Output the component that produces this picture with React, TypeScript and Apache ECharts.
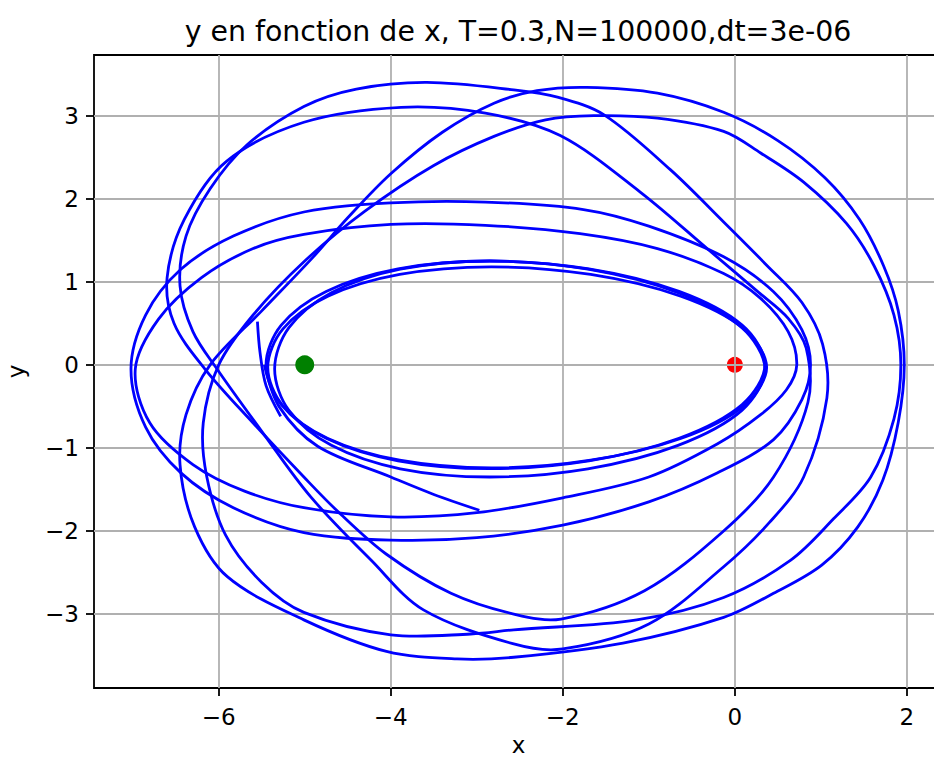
import React, { useEffect, useRef } from "react";
import * as echarts from "echarts";

const TITLE = "y en fonction de x, T=0.3,N=100000,dt=3e-06";
const X_NAME = "x";
const Y_NAME = "y";
const X_TICKS = [-6, -4, -2, 0, 2];
const Y_TICKS = [-3, -2, -1, 0, 1, 2, 3];
const X_MIN = -7.45;
const X_MAX = 2.42;
const Y_MIN = -3.89;
const Y_MAX = 3.73;

// fixed bodies
const GREEN_BODY = [[-5, 0]];
const RED_BODY = [[0, 0]];

// trajectory loops (counter-clockwise)
const INNER_1 = [[0.35, 0], [0.085, 0.478], [-0.649, 0.884], [-1.696, 1.155], [-2.85, 1.25], [-3.916, 1.155], [-4.751, 0.884], [-5.273, 0.478], [-5.45, 0], [-5.273, -0.478], [-4.751, -0.884], [-3.916, -1.155], [-2.85, -1.25], [-1.696, -1.155], [-0.649, -0.884], [0.085, -0.478]];
const INNER_2 = [[0.37, -0.03], [0.105, 0.433], [-0.629, 0.826], [-1.676, 1.088], [-2.83, 1.18], [-3.896, 1.088], [-4.731, 0.826], [-5.253, 0.433], [-5.43, -0.03], [-5.253, -0.493], [-4.731, -0.886], [-3.896, -1.148], [-2.83, -1.24], [-1.676, -1.148], [-0.629, -0.886], [0.105, -0.493]];
const INNER_3 = [[0.35, -0.05], [0.082, 0.448], [-0.66, 0.869], [-1.708, 1.151], [-2.85, 1.25], [-3.89, 1.151], [-4.69, 0.869], [-5.184, 0.448], [-5.35, -0.05], [-5.184, -0.548], [-4.69, -0.969], [-3.89, -1.251], [-2.85, -1.35], [-1.708, -1.251], [-0.66, -0.969], [0.082, -0.548]];
const MID_1 = [[0.88, 0], [0.78, 0.42], [0.45, 0.88], [-0.13, 1.3], [-1.0, 1.67], [-1.76, 1.87], [-2.9, 1.96], [-4.0, 1.95], [-5.01, 1.84], [-5.83, 1.55], [-6.44, 1.15], [-6.85, 0.6], [-7.02, -0.05], [-6.85, -0.75], [-6.44, -1.3], [-5.83, -1.72], [-5.01, -2.02], [-4.0, -2.11], [-3.0, -2.08], [-2.0, -1.93], [-1.0, -1.65], [-0.2, -1.3], [0.45, -0.9], [0.78, -0.42]];
const MID_2 = [[0.72, 0], [0.62, 0.4], [0.3, 0.8], [-0.13, 1.1], [-0.9, 1.4], [-1.8, 1.58], [-2.9, 1.68], [-4.0, 1.69], [-5.01, 1.57], [-5.6, 1.4], [-6.2, 1.05], [-6.7, 0.55], [-6.97, -0.05], [-6.8, -0.7], [-6.3, -1.2], [-5.7, -1.52], [-5.01, -1.72], [-4.0, -1.83], [-3.0, -1.78], [-2.0, -1.6], [-1.0, -1.35], [-0.2, -0.95], [0.3, -0.6], [0.6, -0.3]];
const BIG_A = [[1.07, -0.4], [1.02, 0.25], [0.78, 0.75], [0.37, 1.2], [-0.13, 1.72], [-0.75, 2.35], [-1.52, 3.01], [-2.05, 3.22], [-2.57, 3.31], [-3.58, 3.4], [-4.4, 3.32], [-5.01, 3.11], [-5.67, 2.65], [-6.1, 2.12], [-6.38, 1.55], [-6.45, 0.95], [-6.3, 0.4], [-6.02, -0.05], [-5.5, -0.8], [-4.93, -1.59], [-4.23, -2.35], [-3.62, -2.95], [-2.57, -3.36], [-2.0, -3.42], [-1.0, -3.12], [-0.13, -2.43], [0.4, -1.9], [0.8, -1.35]];
const BIG_B = [[0.85, -0.45], [0.83, 0.2], [0.62, 0.56], [0.28, 0.87], [-0.3, 1.38], [-1.1, 2.08], [-2.03, 2.76], [-2.9, 3.03], [-3.88, 3.1], [-5.01, 2.92], [-5.91, 2.45], [-6.4, 1.75], [-6.6, 1.05], [-6.52, 0.5], [-6.16, -0.05], [-5.6, -0.7], [-5.01, -1.35], [-4.63, -1.75], [-4.05, -2.28], [-3.3, -2.75], [-2.57, -3.0], [-2.02, -3.06], [-1.05, -2.72], [-0.13, -2.0], [0.45, -1.35]];
const BIG_C = [[1.97, 0], [1.9, 0.65], [1.73, 1.19], [1.45, 1.75], [1.05, 2.25], [0.5, 2.7], [-0.13, 3.04], [-0.9, 3.27], [-1.72, 3.34], [-2.3, 3.3], [-2.8, 3.15], [-3.4, 2.8], [-4.0, 2.3], [-4.5, 1.77], [-4.9, 1.3], [-5.5, 0.65], [-6.1, 0], [-6.38, -0.6], [-6.45, -1.2], [-6.28, -1.95], [-5.9, -2.55], [-5.01, -3.07], [-4.05, -3.45], [-3.23, -3.54], [-2.57, -3.52], [-1.3, -3.35], [-0.13, -3.04], [0.45, -2.75], [1.01, -2.41], [1.43, -1.95], [1.72, -1.39], [1.9, -0.69]];
const BIG_D = [[1.93, 0], [1.85, 0.6], [1.62, 1.19], [1.3, 1.7], [0.8, 2.2], [0.3, 2.55], [-0.13, 2.81], [-0.9, 2.97], [-1.64, 3.0], [-2.2, 2.95], [-2.8, 2.75], [-3.5, 2.4], [-4.3, 1.85], [-5.0, 1.25], [-5.6, 0.6], [-6.0, 0], [-6.18, -0.7], [-6.14, -1.34], [-5.92, -2.05], [-5.5, -2.62], [-5.01, -2.98], [-4.0, -3.25], [-3.07, -3.24], [-2.57, -3.19], [-1.14, -3.07], [-0.13, -2.8], [0.65, -2.35], [1.15, -1.85], [1.58, -1.35], [1.85, -0.65]];
const LOOPS = [INNER_1, INNER_2, INNER_3, MID_1, MID_2, BIG_A, BIG_B, BIG_C, BIG_D];

// open ends of the trajectory
const START_ARC = [[-5.55, 0.52], [-5.52, 0.15], [-5.45, -0.25], [-5.28, -0.62]];
const END_ARC = [[-5.47, 0.0], [-5.3, -0.5], [-4.85, -0.98], [-4.0, -1.35], [-3.5, -1.56], [-2.97, -1.75]];

const FONT = "DejaVu Sans";
const BLUE = "#0000ff";
const LINE_W = 2.8;
const SMOOTH = 0.33;
const fmt = (v: number) => String(v).replace("-", "\u2212");

export default function App() {
  const ref = useRef<HTMLDivElement>(null);
  useEffect(() => {
    if (!ref.current) return;
    const chart = echarts.init(ref.current, undefined, { renderer: "svg" });
    const axisCommon = {
      type: "value" as const,
      z: 1,
      axisLine: { show: false, onZero: false },
      axisTick: { show: true, inside: false, length: 8, lineStyle: { color: "#000", width: 1.8 } },
      axisLabel: { fontFamily: FONT, fontSize: 23, color: "#000", formatter: fmt },
      splitLine: { show: true, lineStyle: { color: "#b0b0b0", width: 1.8 } },
    };
    const openLine = (data: number[][]) => ({
      type: "line",
      data,
      smooth: SMOOTH,
      showSymbol: false,
      symbol: "none",
      lineStyle: { color: BLUE, width: LINE_W },
      z: 2,
      silent: true,
    });
    chart.setOption({
      animation: false,
      backgroundColor: "#fff",
      title: {
        text: TITLE,
        left: 513,
        textAlign: "center",
        top: 12,
        textStyle: { fontFamily: FONT, fontSize: 28.4, fontWeight: "normal", color: "#000" },
      },
      grid: {
        left: 94,
        top: 55,
        right: 0,
        bottom: 70,
        containLabel: false,
        outerBoundsMode: "none",
        show: true,
        borderColor: "#000",
        borderWidth: 1.8,
        backgroundColor: "transparent",
        z: 1,
      },
      xAxis: {
        ...axisCommon,
        min: X_MIN,
        max: X_MAX,
        interval: 2,
        name: X_NAME,
        nameLocation: "middle",
        nameGap: 47,
        nameTextStyle: { fontFamily: FONT, fontSize: 23, color: "#000", lineHeight: 20, verticalAlign: "top" },
        axisTick: { ...axisCommon.axisTick, customValues: X_TICKS },
        axisLabel: { ...axisCommon.axisLabel, customValues: X_TICKS, margin: 17 },
      },
      yAxis: {
        ...axisCommon,
        min: Y_MIN,
        max: Y_MAX,
        interval: 1,
        name: Y_NAME,
        nameLocation: "middle",
        nameGap: 67,
        nameTextStyle: { fontFamily: FONT, fontSize: 23, color: "#000" },
        axisTick: { ...axisCommon.axisTick, customValues: Y_TICKS },
        axisLabel: { ...axisCommon.axisLabel, customValues: Y_TICKS, margin: 15 },
      },
      series: [
        {
          type: "scatter",
          data: RED_BODY,
          symbol: "circle",
          symbolSize: 16,
          itemStyle: { color: "#ff0000", opacity: 1 },
          z: 0,
          silent: true,
        },
        {
          type: "custom",
          coordinateSystem: "cartesian2d",
          data: LOOPS.map((l) => l[0]),
          z: 2,
          silent: true,
          renderItem: (params: any, api: any) => {
            const loop = LOOPS[params.dataIndex];
            const pts = loop.map((p) => api.coord(p));
            return {
              type: "polygon",
              shape: { points: pts, smooth: SMOOTH },
              style: { fill: "none", stroke: BLUE, lineWidth: LINE_W },
            };
          },
        },
        openLine(START_ARC),
        openLine(END_ARC),
        {
          type: "scatter",
          data: GREEN_BODY,
          symbol: "circle",
          symbolSize: 19,
          itemStyle: { color: "#008000", opacity: 1 },
          z: 3,
          silent: true,
        },
      ],
    });
    return () => chart.dispose();
  }, []);
  return (
    <div style={{ position: "absolute", left: 0, top: 0, width: 934, height: 758, overflow: "hidden" }}>
      <div ref={ref} style={{ width: 943, height: 758 }} />
    </div>
  );
}
